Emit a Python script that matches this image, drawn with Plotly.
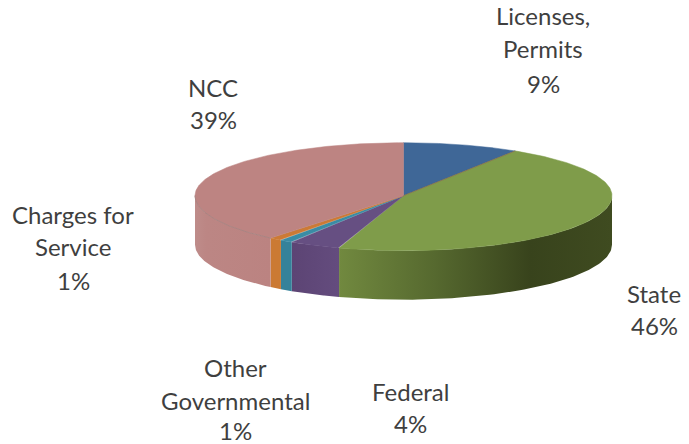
import numpy as np
import plotly.graph_objects as go

# Data
categories = ["Licenses, Permits", "State", "Federal", "Other Governmental", "Charges for Service", "NCC"]
values = [9, 46, 4, 1, 1, 39]
label_lines = [["Licenses,", "Permits", "9%"], ["State", "46%"], ["Federal", "4%"],
               ["Other", "Governmental", "1%"], ["Charges for", "Service", "1%"], ["NCC", "39%"]]

# Styles
top_colors = ["#3F6797", "#7F9C4A", "#664F82", "#3A8CA5", "#CC7A35", "#BD8482"]
side_scales = {
    1: [[0, "#71893F"], [0.35, "#56692F"], [0.7, "#38431C"], [1, "#3F4B20"]],
    2: [[0, "#5C4474"], [1, "#644C7E"]],
    3: [[0, "#35829A"], [1, "#35829A"]],
    4: [[0, "#CB7A33"], [1, "#CB7A33"]],
    5: [[0, "#BE8C8A"], [0.15, "#BC8684"], [1, "#BB8381"]],
}
label_pos = [(543, [15, 48, 83]), (654, [293, 325]), (410, [391, 423]),
             (235, [367, 400, 430]), (73, [214, 246, 280]), (213, [87, 119])]

CX, CY, RX, RY_UP, RY_DOWN, DEPTH = 403.5, 195.7, 208.5, 53, 55, 49


def ex(t):
    return CX + RX * np.sin(t)


def ey(t):
    c = np.cos(t)
    return CY - np.where(c > 0, RY_UP, RY_DOWN) * c


fig = go.Figure()
edges = np.cumsum([0] + values) / sum(values) * 2 * np.pi

# Side walls: only the part of each slice on the front half of the ellipse
for i in range(len(values)):
    a = max(edges[i], np.pi / 2)
    b = min(edges[i + 1], 3 * np.pi / 2)
    if b <= a:
        continue
    t = np.linspace(a, b, 80)
    xs = np.concatenate([ex(t), ex(t[::-1])])
    ys = np.concatenate([ey(t), ey(t[::-1]) + DEPTH])
    fig.add_trace(go.Scatter(
        x=xs, y=ys, mode="lines", fill="toself", line=dict(width=0), hoverinfo="skip",
        fillgradient=dict(type="horizontal", colorscale=side_scales[i]),
        showlegend=False))

# Top faces
for i in range(len(values)):
    t = np.linspace(edges[i], edges[i + 1], 200)
    xs = np.concatenate([[CX], ex(t), [CX]])
    ys = np.concatenate([[CY], ey(t), [CY]])
    fig.add_trace(go.Scatter(
        x=xs, y=ys, mode="lines", fill="toself", fillcolor=top_colors[i],
        line=dict(width=0.5, color=top_colors[i]), name=categories[i], showlegend=False))

# Faint seam where the NCC top meets its wall
t = np.linspace(edges[5], 3 * np.pi / 2, 80)
fig.add_trace(go.Scatter(x=ex(t), y=ey(t), mode="lines", hoverinfo="skip", showlegend=False,
                         line=dict(width=1, color="#A98482")))
# Thin reddish seam between the first two slices
fig.add_trace(go.Scatter(x=[CX, ex(edges[1])], y=[CY, ey(edges[1])], mode="lines", hoverinfo="skip",
                         showlegend=False, line=dict(width=0.7, color="#8A6A4E")))

# Labels
for lines, (x, ys) in zip(label_lines, label_pos):
    for line, y in zip(lines, ys):
        fig.add_annotation(x=x, y=y, text=line, showarrow=False, xanchor="center", yanchor="middle",
                           font=dict(family="Lato", size=24, color="#3F3F3F"))

fig.update_layout(
    width=689, height=444, margin=dict(l=0, r=0, t=0, b=0),
    paper_bgcolor="white", plot_bgcolor="white", showlegend=False,
    xaxis=dict(range=[0, 689], visible=False, fixedrange=True),
    yaxis=dict(range=[444, 0], visible=False, fixedrange=True),
)
fig.write_html("out.html", config={"displayModeBar": False},
               post_script="document.body.style.margin='0';document.body.style.overflow='hidden';")
